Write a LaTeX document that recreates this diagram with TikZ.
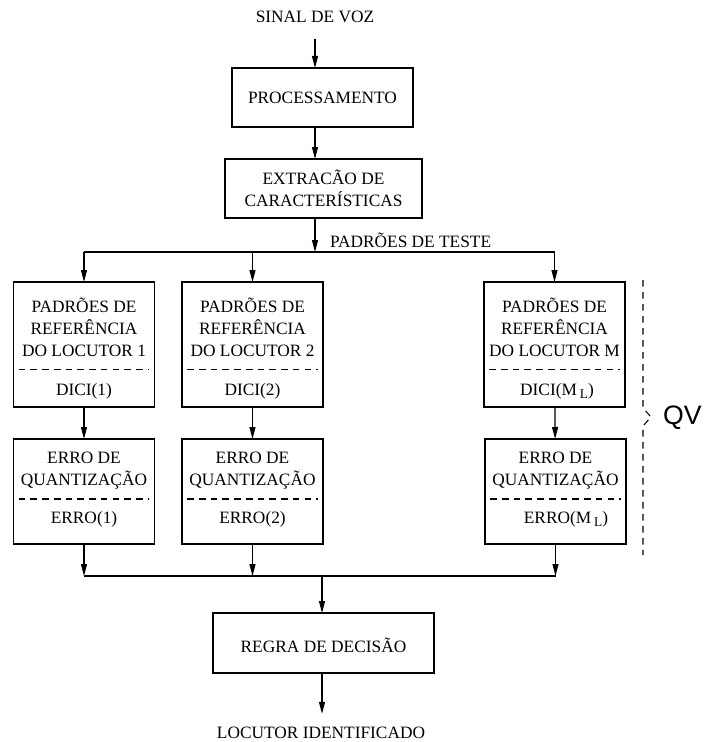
\documentclass[tikz,border=0pt]{standalone}
\usepackage{fontspec}
\setmainfont{Liberation Serif}
\newfontfamily\qvfont{Liberation Sans}
\usetikzlibrary{arrows.meta}
\begin{document}
\begin{tikzpicture}[x=0.75pt,y=-0.75pt,
  every node/.style={inner sep=0pt, outer sep=0pt},
  lbl/.style={font=\fontsize{13}{16.5}\selectfont, align=center},
  boxline/.style={draw, line width=0.9pt},
  procbox/.style={boxline, minimum width=135.75pt, minimum height=44.25pt},
  extbox/.style={boxline, minimum width=147.75pt, minimum height=44.25pt},
  refbox/.style={boxline, minimum width=105.75pt, minimum height=93.75pt},
  errbox/.style={boxline, minimum width=105.75pt, minimum height=78.75pt},
  decbox/.style={boxline, minimum width=165.75pt, minimum height=45pt},
  flow/.style={draw, line width=0.9pt, -{Triangle[length=9pt,width=4.5pt]}},
  wire/.style={draw, line width=0.9pt},
  sep/.style={draw, line width=0.8pt, dash pattern=on 5pt off 3.8pt},
  qvline/.style={draw, line width=0.8pt, dash pattern=on 5pt off 4pt},
]
\useasboundingbox (0,0) rectangle (703,742);

% input and front end
\node[lbl] (sinal) at (315,17) {SINAL DE VOZ};
\node[procbox] (proc) at (322.5,97.5) {};
\node[lbl] (proct) at (proc) {PROCESSAMENTO};
\node[extbox] (ext) at (323.5,188.5) {};
\node[lbl] (extt) at (ext) {EXTRACÃO DE\\CARACTERÍSTICAS};

\draw[flow] ([yshift=-12pt]sinal.south) -- (sinal.south |- proc.north);
\draw[flow] (proc.south -| sinal) -- (ext.north -| sinal);

% distribution of the test patterns
\coordinate (split) at (315,252);
\draw[flow] (ext.south -| split) -- (split);
\node[lbl, anchor=west] (teste) at (330,240) {PADRÕES DE TESTE};

% speaker reference codebooks
\node[refbox] (r1) at (84,344.5) {};
\node[refbox] (r2) at (252.5,344.5) {};
\node[refbox] (rM) at (554.5,344.5) {};
\node[lbl] (r1t) at (84,327) {PADRÕES DE\\REFERÊNCIA\\DO LOCUTOR 1};
\node[lbl] (r2t) at (252.5,327) {PADRÕES DE\\REFERÊNCIA\\DO LOCUTOR 2};
\node[lbl] (rMt) at (554.5,327) {PADRÕES DE\\REFERÊNCIA\\DO LOCUTOR M};
\node[lbl] (r1d) at (84,391) {DICI(1)};
\node[lbl] (r2d) at (252.5,391) {DICI(2)};
\node[lbl] (rMd) at (557,391) {DICI(M\,\raisebox{-0.45ex}{\fontsize{10}{10}\selectfont L})};
\foreach \b in {r1,r2,rM}
  \draw[sep] ([xshift=-49pt,yshift=-19pt]\b.center) -- ([xshift=49pt,yshift=-19pt]\b.center);

\draw[wire] (r1.north |- split) -- (rM.north |- split);
\foreach \b in {r1,r2,rM}
  \draw[flow] (\b.north |- split) -- (\b.north);

% quantization error blocks
\node[errbox] (e1) at (84,491.5) {};
\node[errbox] (e2) at (252.5,491.5) {};
\node[errbox] (eM) at (555.5,491.5) {};
\node[lbl] (e1t) at (84,470.5) {ERRO DE\\QUANTIZAÇÃO};
\node[lbl] (e2t) at (252.5,470.5) {ERRO DE\\QUANTIZAÇÃO};
\node[lbl] (eMt) at (555.5,470.5) {ERRO DE\\QUANTIZAÇÃO};
\node[lbl] (e1d) at (84,519) {ERRO(1)};
\node[lbl] (e2d) at (252.5,519) {ERRO(2)};
\node[lbl] (eMd) at (566,519) {ERRO(M\,\raisebox{-0.45ex}{\fontsize{10}{10}\selectfont L})};
\foreach \b in {e1,e2,eM}
  \draw[sep] ([xshift=-49pt,yshift=-5.6pt]\b.center) -- ([xshift=49pt,yshift=-5.6pt]\b.center);

\draw[flow] (r1) -- (e1);
\draw[flow] (r2) -- (e2);
\draw[flow] (rM) -- (eM);

% merging of the errors and decision
\coordinate (merge) at (322,576);
\draw[wire] (e1.south |- merge) -- (eM.south |- merge);
\foreach \b in {e1,e2,eM}
  \draw[flow] (\b.south) -- (\b.south |- merge);

\node[decbox] (dec) at (323.5,643) {};
\node[lbl] (dect) at (323.5,645) {REGRA DE DECISÃO};
\draw[flow] (merge) -- (dec.north -| merge);

\node[lbl] (out) at (321,733) {LOCUTOR IDENTIFICADO};
\draw[flow] (dec.south -| merge) -- ([yshift=10pt]out.north -| merge);

% vector quantization bracket
\coordinate (qa) at (643,280);
\coordinate (qb) at (643,408);
\coordinate (qc) at (651,417);
\coordinate (qd) at (643,426);
\coordinate (qe) at (643,555);
\draw[qvline] (qa) -- (qb) -- (qc) -- (qd) -- (qe);
\node[anchor=west, font=\qvfont\fontsize{20}{20}\selectfont] (qv) at (663,418) {QV};
\end{tikzpicture}
\end{document}
